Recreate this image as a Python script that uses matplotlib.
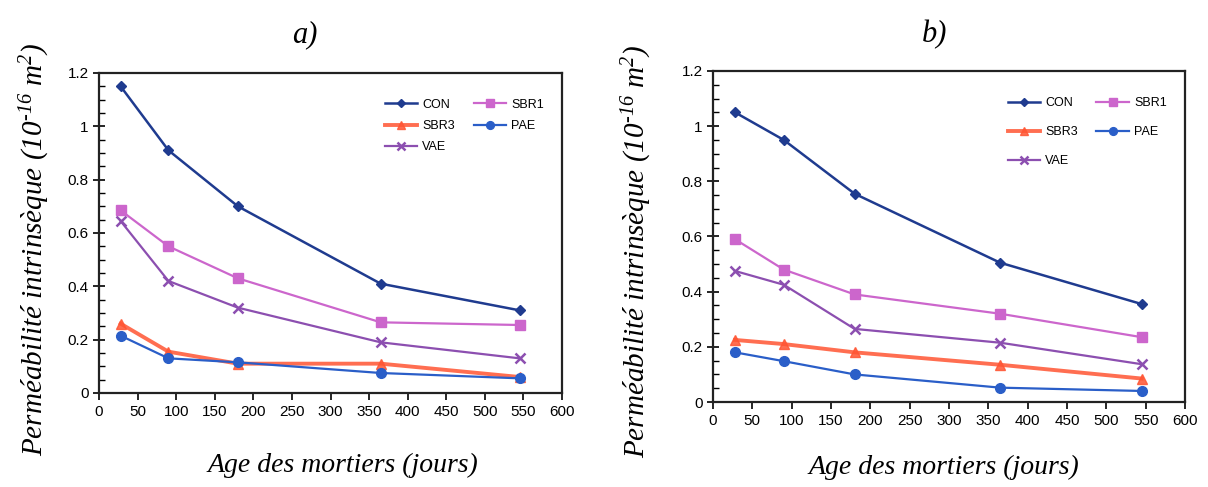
import matplotlib
matplotlib.use("Agg")
import matplotlib.pyplot as plt
from matplotlib.ticker import MultipleLocator

plt.rcParams["mathtext.fontset"] = "custom"
plt.rcParams["mathtext.rm"] = "Liberation Serif:italic"
plt.rcParams["mathtext.it"] = "Liberation Serif:italic"
plt.rcParams["mathtext.default"] = "rm"

ages = [28, 90, 180, 365, 545]
series_names = ["CON", "SBR1", "SBR3", "PAE", "VAE"]

# panel a)
a_CON = [1.15, 0.91, 0.70, 0.41, 0.31]
a_SBR1 = [0.685, 0.55, 0.43, 0.265, 0.255]
a_SBR3 = [0.26, 0.155, 0.11, 0.11, 0.06]
a_PAE = [0.215, 0.13, 0.115, 0.075, 0.055]
a_VAE = [0.645, 0.42, 0.32, 0.19, 0.13]

# panel b)
b_CON = [1.05, 0.95, 0.755, 0.505, 0.355]
b_SBR1 = [0.59, 0.48, 0.39, 0.32, 0.235]
b_SBR3 = [0.225, 0.21, 0.18, 0.135, 0.085]
b_PAE = [0.18, 0.148, 0.10, 0.052, 0.04]
b_VAE = [0.475, 0.425, 0.265, 0.215, 0.137]

styles = {
    "CON": dict(color="#1f3b8f", marker="D", ms=5, lw=1.8),
    "SBR1": dict(color="#cc66cc", marker="s", ms=7, lw=1.6),
    "SBR3": dict(color="#ff5533", marker="^", ms=6.5, lw=2.8, alpha=0.85),
    "PAE": dict(color="#2a5ec8", marker="o", ms=7, lw=1.6),
    "VAE": dict(color="#8c4fb0", marker="x", ms=7, mew=1.8, lw=1.6),
}

fig = plt.figure(figsize=(12.08, 4.87), dpi=100)
W, H = 1208, 487

def make_axes(rect_px):
    x0, y0, x1, y1 = rect_px
    return fig.add_axes([x0 / W, 1 - y1 / H, (x1 - x0) / W, (y1 - y0) / H])

panels = [
    dict(rect=(99, 73, 562, 393), title="a)", title_xy=(305, 35), xlab_xy=(343, 465),
         ylab_xy=(35, 249), labelspacing=0.75, leg_anchor=(0.985, 0.955),
         data=dict(CON=a_CON, SBR1=a_SBR1, SBR3=a_SBR3, PAE=a_PAE, VAE=a_VAE)),
    dict(rect=(713, 71, 1185, 402), title="b)", title_xy=(935, 35), xlab_xy=(944, 467),
         ylab_xy=(637, 251), labelspacing=1.35, leg_anchor=(0.985, 0.955),
         data=dict(CON=b_CON, SBR1=b_SBR1, SBR3=b_SBR3, PAE=b_PAE, VAE=b_VAE)),
]

serif = ["Liberation Serif", "DejaVu Serif"]
sans = ["Liberation Sans", "DejaVu Sans"]

for p in panels:
    rect = p["rect"]
    data = p["data"]
    ax = make_axes(rect)
    handles = {}
    for name in ["CON", "SBR3", "VAE", "SBR1", "PAE"]:
        h, = ax.plot(ages, data[name], label=name, **styles[name])
        handles[name] = h
    ax.set_xlim(0, 600)
    ax.set_ylim(0, 1.2)
    ax.xaxis.set_major_locator(MultipleLocator(50))
    ax.yaxis.set_major_locator(MultipleLocator(0.2))
    ax.yaxis.set_minor_locator(MultipleLocator(0.05))
    ax.tick_params(axis="y", which="major", direction="inout", length=8, width=1.2, labelsize=11)
    ax.tick_params(axis="y", which="minor", direction="in", length=4, width=1.0)
    ax.tick_params(axis="x", which="major", direction="out", length=5, width=1.2, labelsize=11)
    for lab in ax.get_xticklabels() + ax.get_yticklabels():
        lab.set_family(sans)
    ax.yaxis.set_major_formatter(plt.FuncFormatter(lambda v, pos: f"{v:g}"))
    for sp in ax.spines.values():
        sp.set_linewidth(1.6)
        sp.set_color("#222222")
    order = ["CON", "SBR3", "VAE", "SBR1", "PAE"]
    ax.legend([handles[n] for n in order], order, ncol=2, frameon=False,
              loc="upper right", bbox_to_anchor=p["leg_anchor"],
              prop=dict(family=sans, size=9), handlelength=2.6, markerscale=0.8,
              columnspacing=1.5, labelspacing=p["labelspacing"], handletextpad=0.4)
    tx, ty = p["title_xy"]
    fig.text(tx / W, 1 - ty / H, p["title"], family=serif, style="italic", fontsize=22,
             ha="center", va="center")
    xx, xy = p["xlab_xy"]
    fig.text(xx / W, 1 - xy / H, "Age des mortiers (jours)", family=serif, style="italic",
             fontsize=20, ha="center", va="center")
    yx, yy = p["ylab_xy"]
    fig.text(yx / W, 1 - yy / H, "Perméabilité intrinsèque (10$^{\\text{-16}}$ m$^{2}$)",
             family=serif, style="italic", fontsize=21, rotation=90, ha="center", va="center")

fig.savefig("out.png", dpi=100, facecolor="white")
